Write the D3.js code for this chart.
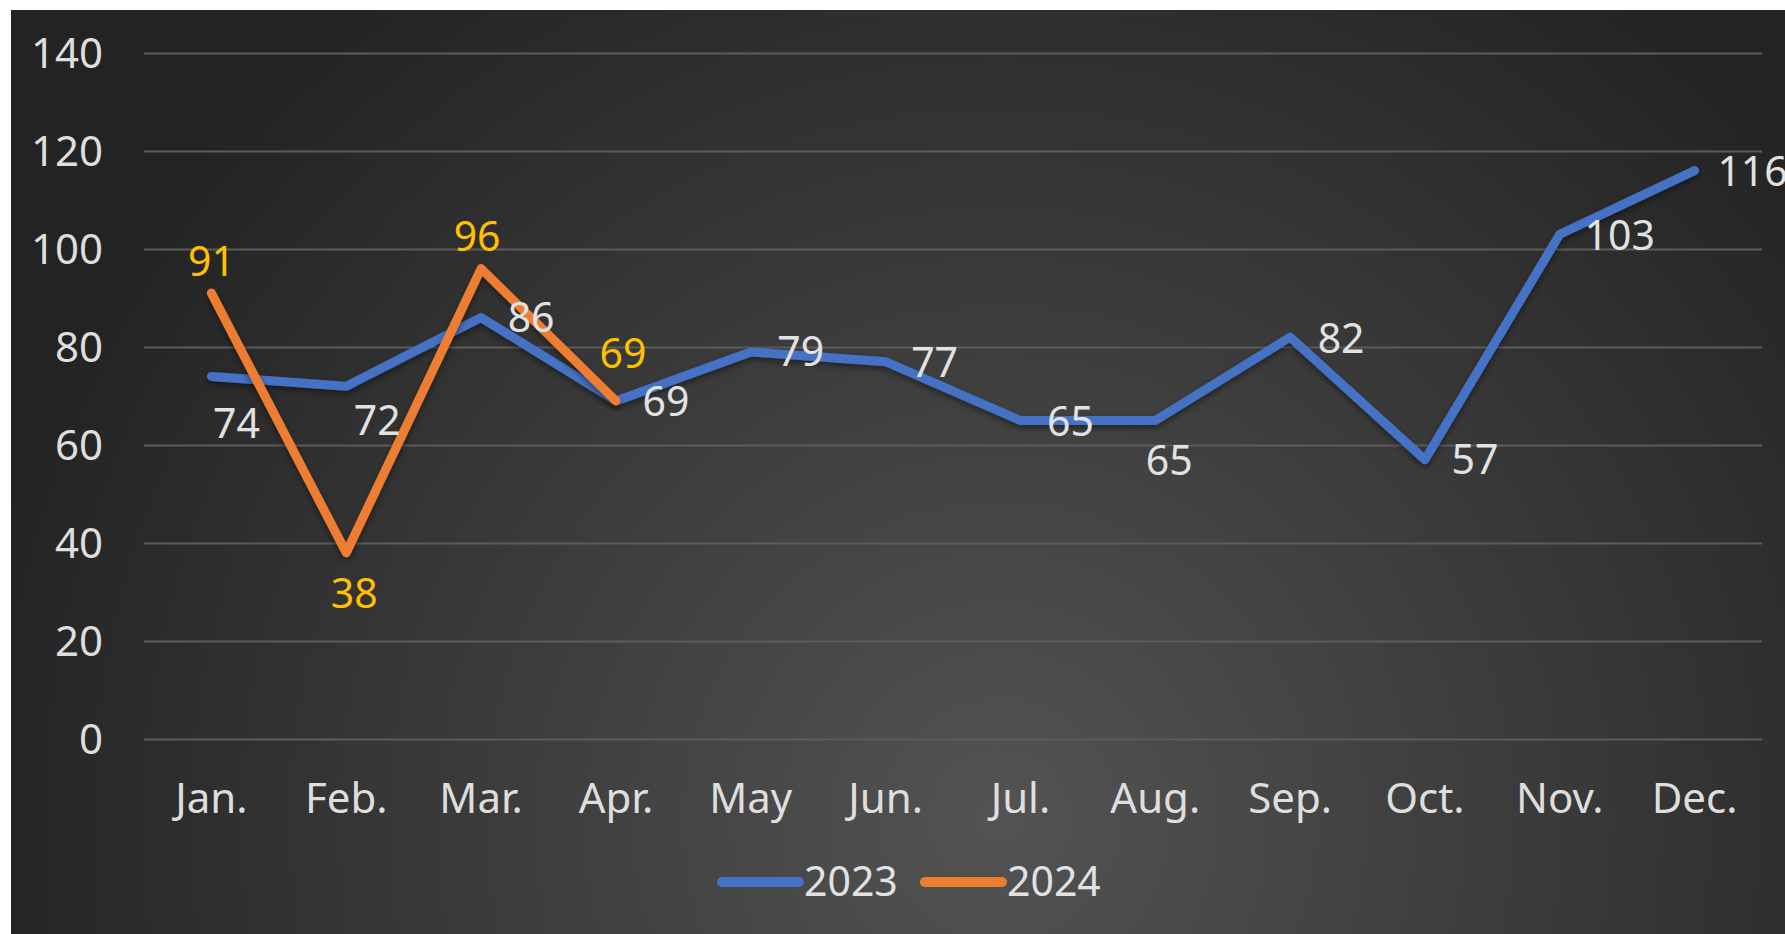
<!DOCTYPE html>
<html>
<head>
<meta charset="utf-8">
<script src="https://cdn.jsdelivr.net/npm/d3@7"></script>
<style>
  body { margin: 0; background: #fff; }
  text { font-family: "Noto Sans", "Open Sans", sans-serif; }
</style>
</head>
<body>
<svg id="chart"></svg>
<script>
const months = ["Jan.", "Feb.", "Mar.", "Apr.", "May", "Jun.", "Jul.", "Aug.", "Sep.", "Oct.", "Nov.", "Dec."];
const values2023 = [74, 72, 86, 69, 79, 77, 65, 65, 82, 57, 103, 116];
const values2024 = [91, 38, 96, 69];
const yTicks = [0, 20, 40, 60, 80, 100, 120, 140];
const seriesNames = ["2023", "2024"];

// label nudges (px) relative to each point, as placed in the original
const nudge2023 = [[25, 47], [31, 34], [50, 0], [50, 1], [50, 0], [49, 1], [50, 1], [14, 40], [51, 1], [50, 0], [60, 1], [58, 1]];
const nudge2024 = [[0, -31], [8, 41], [-4, -32], [7, -47]];

const width = 1785;
const height = 934;
const margin = { top: 53, right: 23, bottom: 195, left: 144 };

const svg = d3.select("#chart").attr("width", width).attr("height", height);

const defs = svg.append("defs");
const grad = defs.append("radialGradient")
  .attr("id", "bg")
  .attr("gradientUnits", "userSpaceOnUse")
  .attr("cx", 1000).attr("cy", 820).attr("r", 1050);
grad.append("stop").attr("offset", "0%").attr("stop-color", "#535353");
grad.append("stop").attr("offset", "100%").attr("stop-color", "#232323");

const shadow = defs.append("filter").attr("id", "shadow")
  .attr("x", "-10%").attr("y", "-10%").attr("width", "120%").attr("height", "130%");
shadow.append("feDropShadow")
  .attr("dx", 0).attr("dy", 3).attr("stdDeviation", 3)
  .attr("flood-color", "#000").attr("flood-opacity", 0.45);

svg.append("rect")
  .attr("x", 11).attr("y", 10)
  .attr("width", width - 11).attr("height", height - 10)
  .attr("fill", "url(#bg)");

const x = d3.scaleBand()
  .domain(months)
  .range([margin.left, width - margin.right]);

const y = d3.scaleLinear()
  .domain([0, 140])
  .range([height - margin.bottom, margin.top]);

const cx = (i) => x(months[i]) + x.bandwidth() / 2;

// y axis + gridlines
const yAxis = svg.append("g")
  .attr("transform", `translate(${margin.left},0)`)
  .call(d3.axisLeft(y)
    .tickValues(yTicks)
    .tickSize(-(width - margin.left - margin.right))
    .tickPadding(41));
yAxis.select(".domain").remove();
yAxis.selectAll("line")
  .attr("stroke", "#5c5c5c")
  .attr("stroke-width", 2);
yAxis.selectAll("text")
  .attr("fill", "#dedede")
  .style("font-size", "42px")
  .attr("dy", "0.35em");

// x axis
const xAxis = svg.append("g")
  .attr("transform", `translate(0,${height - margin.bottom})`)
  .call(d3.axisBottom(x).tickSize(0));
xAxis.select(".domain").remove();
xAxis.selectAll("text")
  .attr("fill", "#dedede")
  .style("font-size", "42px")
  .attr("y", 74)
  .attr("dy", 0);

const line = d3.line()
  .x((d, i) => cx(i))
  .y((d) => y(d));

const colors = ["#4472C4", "#ED7D31"];
const allSeries = [values2023, values2024];

allSeries.forEach((vals, s) => {
  svg.append("path")
    .datum(vals)
    .attr("fill", "none")
    .attr("stroke", colors[s])
    .attr("stroke-width", 9)
    .attr("stroke-linecap", "round")
    .attr("stroke-linejoin", "round")
    .attr("filter", "url(#shadow)")
    .attr("d", line);
});

// data labels
const labelSets = [
  { vals: values2023, nudge: nudge2023, color: "#e2e2e2" },
  { vals: values2024, nudge: nudge2024, color: "#FFC000" }
];
labelSets.forEach((set) => {
  svg.append("g")
    .selectAll("text")
    .data(set.vals)
    .enter()
    .append("text")
    .attr("x", (d, i) => cx(i) + set.nudge[i][0])
    .attr("y", (d, i) => y(d) + set.nudge[i][1])
    .attr("dy", "0.35em")
    .attr("text-anchor", "middle")
    .attr("fill", set.color)
    .style("font-size", "41px")
    .text((d) => d);
});

// legend
const legend = svg.append("g").attr("transform", "translate(722,882)");
const legendX = [0, 203];
seriesNames.forEach((name, i) => {
  const g = legend.append("g").attr("transform", `translate(${legendX[i]},0)`);
  g.append("line")
    .attr("x1", 0).attr("x2", 77)
    .attr("y1", 0).attr("y2", 0)
    .attr("stroke", colors[i])
    .attr("stroke-width", 10)
    .attr("stroke-linecap", "round");
  g.append("text")
    .attr("x", 82)
    .attr("y", 0)
    .attr("dy", "0.35em")
    .attr("fill", "#e2e2e2")
    .style("font-size", "41px")
    .text(name);
});
</script>
</body>
</html>
